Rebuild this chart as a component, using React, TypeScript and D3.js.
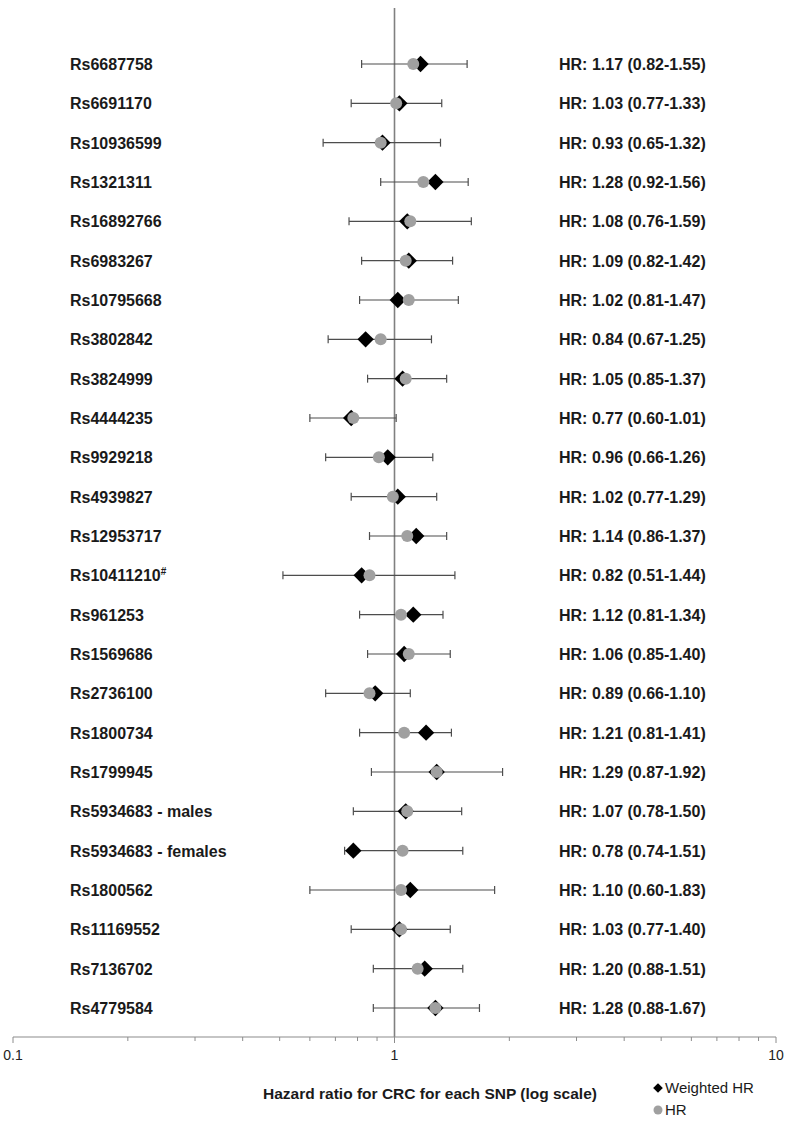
import React, { useRef, useEffect } from "react";
import * as d3 from "d3";

const snps = [
  "Rs6687758", "Rs6691170", "Rs10936599", "Rs1321311", "Rs16892766",
  "Rs6983267", "Rs10795668", "Rs3802842", "Rs3824999", "Rs4444235",
  "Rs9929218", "Rs4939827", "Rs12953717", "Rs10411210#", "Rs961253",
  "Rs1569686", "Rs2736100", "Rs1800734", "Rs1799945", "Rs5934683 - males",
  "Rs5934683 - females", "Rs1800562", "Rs11169552", "Rs7136702", "Rs4779584",
];
const weightedHR = [
  1.17, 1.03, 0.93, 1.28, 1.08, 1.09, 1.02, 0.84, 1.05, 0.77,
  0.96, 1.02, 1.14, 0.82, 1.12, 1.06, 0.89, 1.21, 1.29, 1.07,
  0.78, 1.10, 1.03, 1.20, 1.28,
];
const ciLow = [
  0.82, 0.77, 0.65, 0.92, 0.76, 0.82, 0.81, 0.67, 0.85, 0.60,
  0.66, 0.77, 0.86, 0.51, 0.81, 0.85, 0.66, 0.81, 0.87, 0.78,
  0.74, 0.60, 0.77, 0.88, 0.88,
];
const ciHigh = [
  1.55, 1.33, 1.32, 1.56, 1.59, 1.42, 1.47, 1.25, 1.37, 1.01,
  1.26, 1.29, 1.37, 1.44, 1.34, 1.40, 1.10, 1.41, 1.92, 1.50,
  1.51, 1.83, 1.40, 1.51, 1.67,
];
// unweighted HR (grey circles)
const hr = [
  1.12, 1.01, 0.92, 1.19, 1.10, 1.07, 1.09, 0.92, 1.07, 0.78,
  0.91, 0.99, 1.08, 0.86, 1.04, 1.09, 0.86, 1.06, 1.29, 1.08,
  1.05, 1.04, 1.04, 1.15, 1.28,
];
const xTicks = [0.1, 1, 10];

export default function App() {
  const svgRef = useRef<SVGSVGElement>(null);
  const W = 787, H = 1123;

  useEffect(() => {
    document.body.style.margin = "0";
    const svg = d3.select(svgRef.current);
    svg.selectAll("*").remove();

    const font = "'Liberation Sans', Arial, sans-serif";
    const x = d3.scaleLog().domain([0.1, 10]).range([13, 776]);
    const y = d3.scaleLinear().domain([0, snps.length - 1]).range([64, 1008]);
    const axisY = 1037;
    const barCol = "#4d4d4d";

    // reference line at HR = 1
    svg.append("line")
      .attr("x1", x(1)).attr("x2", x(1))
      .attr("y1", 8).attr("y2", axisY)
      .attr("stroke", "#808080").attr("stroke-width", 1.6);

    // x axis
    const axis = svg.append("g").attr("transform", `translate(0,${axisY})`);
    axis.append("line")
      .attr("x1", x(0.1)).attr("x2", x(10))
      .attr("stroke", "#8c8c8c").attr("stroke-width", 1.2);
    const minor: number[] = [];
    [0.1, 1].forEach(b => { for (let k = 1; k <= 10; k++) minor.push(b * k); });
    axis.selectAll(".tk").data(minor).enter().append("line")
      .attr("x1", d => x(d)).attr("x2", d => x(d))
      .attr("y1", 0).attr("y2", d => (xTicks.some(t => Math.abs(t - d) < 1e-9) ? 6 : 4))
      .attr("stroke", "#8c8c8c").attr("stroke-width", 1);
    axis.selectAll(".tl").data(xTicks).enter().append("text")
      .attr("x", d => x(d)).attr("y", 23)
      .attr("text-anchor", "middle")
      .attr("font-family", font).attr("font-size", 14).attr("fill", "#222")
      .text(d => String(d));

    svg.append("text")
      .attr("x", 430).attr("y", 1099)
      .attr("text-anchor", "middle")
      .attr("font-family", font).attr("font-size", 15.5).attr("font-weight", "bold")
      .attr("fill", "#1a1a1a")
      .text("Hazard ratio for CRC for each SNP (log scale)");

    const rows = svg.append("g");
    snps.forEach((name, i) => {
      const cy = y(i);
      const g = rows.append("g");
      // error bar
      g.append("line")
        .attr("x1", x(ciLow[i])).attr("x2", x(ciHigh[i]))
        .attr("y1", cy).attr("y2", cy)
        .attr("stroke", barCol).attr("stroke-width", 1.2);
      [ciLow[i], ciHigh[i]].forEach(v => {
        g.append("line")
          .attr("x1", x(v)).attr("x2", x(v))
          .attr("y1", cy - 4).attr("y2", cy + 4)
          .attr("stroke", barCol).attr("stroke-width", 1.2);
      });
      // weighted HR diamond
      g.append("path")
        .attr("d", d3.symbol(d3.symbolDiamond2, 170)())
        .attr("transform", `translate(${x(weightedHR[i])},${cy})`)
        .attr("fill", "#000");
      // HR circle
      g.append("circle")
        .attr("cx", x(hr[i])).attr("cy", cy).attr("r", 6)
        .attr("fill", "#a0a0a0");

      // left label
      const lbl = g.append("text")
        .attr("x", 70).attr("y", cy + 6)
        .attr("font-family", font).attr("font-size", 16).attr("font-weight", "bold")
        .attr("fill", "#1a1a1a");
      if (name.endsWith("#")) {
        lbl.append("tspan").text(name.slice(0, -1));
        lbl.append("tspan").attr("font-size", 10).attr("dy", -6).text("#");
      } else {
        lbl.text(name);
      }
      // right label
      g.append("text")
        .attr("x", 559).attr("y", cy + 6)
        .attr("font-family", font).attr("font-size", 16).attr("font-weight", "bold")
        .attr("fill", "#1a1a1a")
        .text(`HR: ${weightedHR[i].toFixed(2)} (${ciLow[i].toFixed(2)}-${ciHigh[i].toFixed(2)})`);
    });

    // legend
    const leg = svg.append("g").attr("font-family", font).attr("font-size", 15).attr("fill", "#1a1a1a");
    leg.append("path")
      .attr("d", d3.symbol(d3.symbolDiamond2, 60)())
      .attr("transform", "translate(658,1088)").attr("fill", "#000");
    leg.append("text").attr("x", 665).attr("y", 1093).text("Weighted HR");
    leg.append("circle").attr("cx", 658).attr("cy", 1110).attr("r", 4.5).attr("fill", "#a0a0a0");
    leg.append("text").attr("x", 665).attr("y", 1115).text("HR");
  }, []);

  return <svg ref={svgRef} width={W} height={H} style={{ display: "block", background: "#fff" }} />;
}
